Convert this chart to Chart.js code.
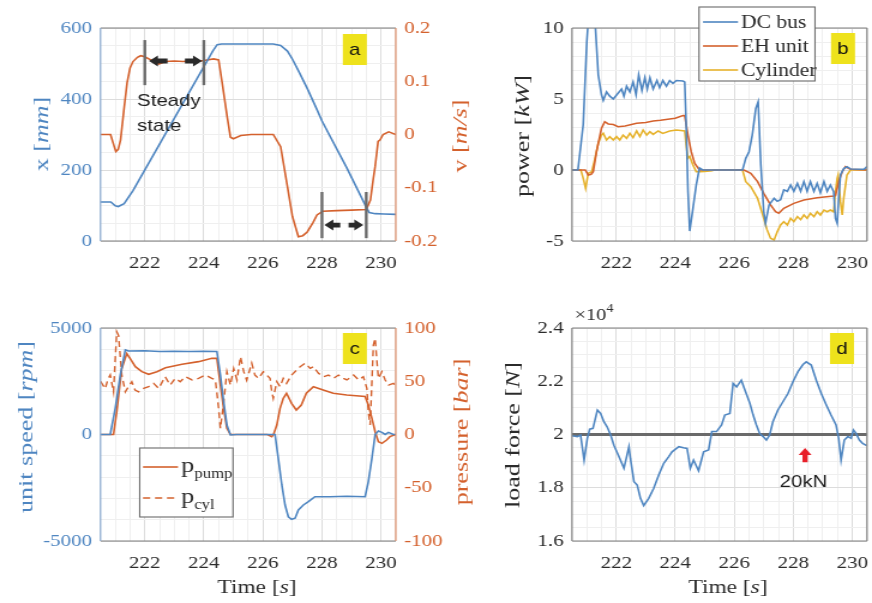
<!DOCTYPE html>
<html>
<head>
<meta charset="utf-8">
<title>EH drive test</title>
<script src="https://cdn.jsdelivr.net/npm/chart.js@4.4.1/dist/chart.umd.min.js"></script>
<style>
  html, body { margin: 0; padding: 0; background: #fff; }
  #wrap { position: relative; width: 872px; height: 603px; overflow: hidden; }
  #wrap canvas { position: absolute; left: 0; top: 0; }
</style>
</head>
<body>
<div id="wrap">
  <canvas id="pa" width="727" height="603" style="width:872px;height:603px"></canvas>
  <canvas id="pb" width="727" height="603" style="width:872px;height:603px"></canvas>
  <canvas id="pc" width="727" height="603" style="width:872px;height:603px"></canvas>
  <canvas id="pd" width="727" height="603" style="width:872px;height:603px"></canvas>
</div>
<script>
// canvas is drawn narrower and stretched sideways, like the source figure
const W = 727, H = 603, S = 872 / W;
const SERIF = "'Liberation Serif', 'Times New Roman', serif";
const SANS = "'Liberation Sans', Arial, sans-serif";
const BLUE = '#4f86c1', ORANGE = '#d4612d', YELLOW = '#e6b22c';
const DARK = '#2b2b2b', BOXGRAY = '#808080', GRID_MAJ = '#dcdcdc', GRID_MIN = '#efefef';
const TAG = '#eee21c';

const timeRange = [220.5, 230.5];
const timeTicks = [222, 224, 226, 228, 230];

// ---- panel a: position / velocity
const posTicks = [0, 200, 400, 600];
const velTicks = [-0.2, -0.1, 0, 0.1, 0.2];
const cylPosition = [[220.5,110],[220.85,110],[221.0,99],[221.1,97],[221.3,105],[221.6,142],[224.3,535],[224.45,553],
  [224.6,555],[226.35,555],[226.6,551],[226.83,535],[227.0,512],[227.2,480],[227.5,430],[227.83,370],[228.0,338],
  [228.84,206],[229.52,92],[229.6,80],[229.8,77],[230.1,76],[230.5,75]];
const cylVelocity = [[220.5,0],[220.84,0],[220.95,-0.02],[221.02,-0.032],[221.1,-0.028],[221.18,-0.01],[221.3,0.05],
  [221.4,0.097],[221.5,0.125],[221.6,0.137],[221.75,0.145],[221.86,0.148],[222.0,0.146],[222.2,0.14],[222.47,0.132],
  [222.7,0.137],[223.0,0.138],[223.3,0.137],[223.6,0.139],[223.9,0.138],[224.1,0.14],[224.33,0.142],[224.5,0.14],
  [224.62,0.097],[224.79,0.033],[224.9,-0.005],[225.0,-0.008],[225.25,-0.002],[225.6,0],[226.35,0],[226.6,-0.023],
  [226.83,-0.098],[227.0,-0.154],[227.2,-0.192],[227.35,-0.19],[227.5,-0.183],[227.7,-0.165],[227.83,-0.151],
  [228.03,-0.144],[228.5,-0.143],[229.0,-0.142],[229.5,-0.141],[229.64,-0.123],[229.74,-0.082],[229.8,-0.06],
  [229.9,-0.013],[229.97,-0.01],[230.07,0],[230.26,0.005],[230.5,0]];

// ---- panel b: power
const powerTicks = [-5, 0, 5, 10];
const powerLabels = ['DC bus', 'EH unit', 'Cylinder'];
const dcBusPower = [[220.5,0],[220.7,0],[220.88,3.2],[221.0,9.0],[221.05,10.5],[221.28,10.5],[221.39,6.7],[221.5,5.3],
  [221.56,4.9],[221.67,5.5],[221.78,5.2],[221.9,5.0],[222.06,5.4],[222.18,5.7],[222.26,5.2],[222.35,5.9],[222.46,5.5],
  [222.57,6.2],[222.67,5.3],[222.76,6.7],[222.87,5.6],[222.97,6.5],[223.05,5.7],[223.14,6.5],[223.25,5.7],[223.38,6.3],
  [223.47,5.8],[223.58,6.3],[223.7,5.9],[223.81,6.3],[223.92,6.1],[224.04,6.3],[224.26,6.27],[224.32,6.2],[224.37,3.2],
  [224.43,-1.5],[224.49,-4.3],[224.6,-2.7],[224.71,-1.06],[224.82,0.14],[224.93,0],[226.28,0],[226.39,0.82],[226.5,1.29],
  [226.61,2.46],[226.73,4.33],[226.81,4.8],[226.9,0.35],[227.0,-2.94],[227.06,-3.75],[227.18,-2.46],[227.35,-2.0],
  [227.46,-2.2],[227.57,-2.1],[227.68,-1.4],[227.8,-1.5],[227.91,-1.06],[228.02,-1.5],[228.14,-0.94],[228.25,-1.5],
  [228.36,-0.82],[228.47,-1.5],[228.58,-0.82],[228.7,-1.5],[228.81,-0.94],[228.92,-1.6],[229.04,-0.82],[229.15,-1.5],
  [229.26,-1.06],[229.37,-1.53],[229.43,-3.4],[229.49,-3.75],[229.54,-2.0],[229.6,-0.35],[229.71,0.1],[229.82,0.23],
  [229.94,0.07],[230.4,0.05],[230.5,0.25]];
const ehUnitPower = [[220.5,0],[220.95,0],[221.05,-0.35],[221.15,-0.3],[221.22,-0.12],[221.33,1.29],[221.5,2.94],
  [221.61,3.4],[221.73,3.24],[221.9,3.2],[222.06,3.05],[222.3,3.1],[222.69,3.29],[223.0,3.35],[223.25,3.45],[223.5,3.5],
  [223.81,3.59],[224.0,3.65],[224.26,3.83],[224.32,3.83],[224.43,2.46],[224.54,1.29],[224.66,0.47],[224.82,0],
  [226.33,0],[226.56,-0.23],[226.79,-0.82],[227.0,-1.64],[227.23,-2.46],[227.4,-2.94],[227.51,-3.05],[227.68,-2.7],
  [228.02,-2.35],[228.36,-2.11],[228.81,-1.95],[229.37,-1.83],[229.43,-1.8],[229.54,-0.82],[229.66,-0.12],[229.77,0.23],
  [229.94,0.05],[230.5,0]];
const cylinderPower = [[220.5,0],[220.8,0],[220.88,-0.59],[220.96,-1.29],[221.05,-0.23],[221.17,-0.12],[221.28,0.82],
  [221.39,1.88],[221.5,2.46],[221.56,2.58],[221.67,2.11],[221.78,2.35],[221.9,2.11],[222.01,2.35],[222.12,2.11],
  [222.23,2.46],[222.35,2.23],[222.46,2.58],[222.57,2.28],[222.69,2.75],[222.8,2.35],[222.91,2.82],[223.03,2.46],
  [223.14,2.7],[223.25,2.51],[223.42,2.75],[223.58,2.58],[223.81,2.75],[224.04,2.82],[224.32,2.75],[224.37,1.76],
  [224.43,0.82],[224.49,0.95],[224.6,0.35],[224.71,-0.12],[224.82,-0.12],[225.0,-0.1],[225.25,-0.05],[225.3,0],
  [226.28,0],[226.39,-0.82],[226.56,-1.18],[226.79,-2.0],[227.0,-3.4],[227.11,-4.2],[227.23,-4.8],[227.35,-4.93],
  [227.46,-4.34],[227.57,-3.87],[227.68,-3.64],[227.8,-3.87],[227.91,-3.4],[228.02,-3.64],[228.14,-3.28],[228.25,-3.5],
  [228.36,-3.17],[228.47,-3.4],[228.58,-3.05],[228.7,-3.28],[228.81,-2.94],[228.92,-3.17],[229.04,-2.82],[229.15,-2.94],
  [229.26,-2.82],[229.37,-2.94],[229.43,-1.53],[229.49,-0.59],[229.52,-0.35],[229.6,-2.23],[229.66,-3.17],[229.71,-2.0],
  [229.82,-0.35],[229.94,0],[230.5,0]];

// ---- panel c: unit speed / pressures
const speedTicks = [-5000, 0, 5000];
const pressureTicks = [-100, -50, 0, 50, 100];
const unitSpeed = [[220.5,0],[220.83,0],[221.0,1230],[221.17,2790],[221.34,3970],[221.45,3920],[222,3930],[222.5,3900],
  [223,3910],[223.5,3900],[224,3910],[224.44,3900],[224.56,2790],[224.67,1540],[224.78,446],[224.9,-20],[225.1,0],
  [226.41,0],[226.52,-1120],[226.64,-2370],[226.75,-3310],[226.86,-3860],[226.97,-3980],[227.09,-3930],[227.2,-3540],
  [227.37,-3310],[227.54,-3150],[227.76,-2920],[228.27,-2920],[228.84,-2900],[229.46,-2920],[229.57,-2210],
  [229.69,-1120],[229.8,0],[229.91,164],[230.03,100],[230.14,0],[230.25,100],[230.42,0],[230.5,0]];
const pumpPressure = [[220.5,0],[220.94,0],[221.05,21.4],[221.22,62],[221.39,76],[221.5,71.5],[221.68,63.7],[221.9,59],
  [222.13,56.5],[222.41,59],[222.7,62.7],[223.26,65.9],[223.82,68.4],[224.27,71.5],[224.44,71.5],[224.56,46.5],
  [224.67,24.6],[224.78,5.8],[224.9,0],[226.15,0],[226.3,-2],[226.36,0],[226.47,8.9],[226.58,24.6],[226.69,34],
  [226.8,38.7],[226.97,29.3],[227.13,23],[227.3,27.7],[227.47,38.7],[227.71,44.9],[228.04,41.8],[228.38,38.7],
  [228.84,37.1],[229.46,35.7],[229.57,27.7],[229.69,15.2],[229.8,2.6],[229.91,-6.8],[230.03,-8.3],[230.19,-5.2],
  [230.3,-2],[230.5,0]];
const cylPressure = [[220.5,50],[220.66,43],[220.75,52],[220.83,56],[220.94,40],[221.05,96.5],[221.11,93],[221.22,56],
  [221.34,40],[221.45,45],[221.56,49.6],[221.67,41.8],[221.79,40],[221.96,43.3],[222.13,44.9],[222.3,48],[222.47,43.3],
  [222.69,54.3],[222.86,46.4],[223.03,52.7],[223.2,49.6],[223.37,54.3],[223.6,51.2],[223.82,52.7],[224.05,55.9],
  [224.27,52.7],[224.39,51.2],[224.5,24.6],[224.56,5.8],[224.67,30],[224.78,59],[224.9,46.4],[225.01,62],[225.12,51.2],
  [225.24,73],[225.35,59],[225.45,51],[225.62,67],[225.73,55.8],[225.85,52.7],[226.01,59],[226.13,55.8],[226.24,52.7],
  [226.3,40.2],[226.35,34],[226.47,49.6],[226.58,44.9],[226.69,52.7],[226.8,48],[226.97,55.8],[227.14,60.5],
  [227.26,63.7],[227.43,67],[227.6,62.1],[227.71,63.7],[227.88,57.4],[228.05,54.3],[228.22,55.8],[228.39,52.7],
  [228.56,55.8],[228.73,52.7],[228.84,51.2],[229.07,55.8],[229.24,51.2],[229.4,54.3],[229.52,43.3],[229.57,21.4],
  [229.63,8.9],[229.69,49.6],[229.74,84],[229.8,90.3],[229.86,68.4],[229.91,52.7],[230.03,59],[230.14,51.2],
  [230.25,46.4],[230.42,48],[230.5,44.9]];

// ---- panel d: load force
const forceTicks = [16000, 18000, 20000, 22000, 24000];
const refForce = 20000;
const loadForce = [[220.5,19950],[220.68,19920],[220.79,19980],[220.91,19040],[221.02,19860],[221.1,20200],
  [221.21,20230],[221.36,20920],[221.47,20790],[221.58,20480],[221.69,20290],[221.81,19980],[221.92,19600],
  [222.09,19170],[222.26,18730],[222.43,19540],[222.48,19100],[222.6,18230],[222.71,18100],[222.82,17600],
  [222.93,17330],[223.1,17600],[223.27,17980],[223.44,18480],[223.61,18920],[223.78,19170],[223.89,19350],
  [224.12,19540],[224.28,19500],[224.4,19480],[224.51,18730],[224.62,19040],[224.79,18640],[224.96,19350],
  [225.13,19420],[225.24,20110],[225.4,20110],[225.57,20360],[225.68,20730],[225.85,20790],[225.96,21920],
  [226.08,21790],[226.24,22040],[226.36,21670],[226.53,21170],[226.64,20730],[226.75,20360],[226.86,20040],
  [226.98,19920],[227.09,19790],[227.2,19980],[227.31,20480],[227.48,20920],[227.65,21230],[227.82,21540],
  [227.99,21980],[228.16,22360],[228.33,22630],[228.44,22730],[228.61,22610],[228.78,22040],[228.95,21540],
  [229.12,21110],[229.28,20730],[229.45,20360],[229.54,19850],[229.62,19040],[229.73,19790],[229.85,19920],
  [229.96,19860],[230.04,20170],[230.13,20040],[230.24,19790],[230.35,19670],[230.49,19580]];

// plot boxes in page pixels
const areaA = {l: 100.5, r: 395.8, t: 28, b: 241};
const areaB = {l: 572, r: 867, t: 28, b: 241};
const areaC = {l: 100.5, r: 395.8, t: 328, b: 541};
const areaD = {l: 572, r: 867, t: 328, b: 541};

function steps(a, b, d) {
  const out = [];
  for (let v = a; v <= b + 1e-9; v += d) out.push(Math.round(v * 1e6) / 1e6);
  return out;
}
function pts(arr) { return arr.map(([x, y]) => ({x, y})); }
function line(label, data, color, axis, extra) {
  return Object.assign({label, data: pts(data), borderColor: color, backgroundColor: color, borderWidth: 1.6,
    pointRadius: 0, tension: 0, fill: false, yAxisID: axis}, extra || {});
}
function noPad(s) { s.paddingLeft = 0; s.paddingRight = 0; s.paddingTop = 0; s.paddingBottom = 0; }

function timeScale(area) {
  return {
    type: 'linear', min: timeRange[0], max: timeRange[1],
    afterFit: s => { s.height = H - area.b; noPad(s); },
    afterBuildTicks: s => { s.ticks = steps(timeRange[0], timeRange[1], 0.5).map(v => ({value: v})); },
    ticks: {autoSkip: false, maxRotation: 0, padding: 12, color: DARK, font: {family: SERIF, size: 17.5},
      callback: v => timeTicks.includes(v) ? String(v) : ''},
    grid: {drawTicks: false, color: c => (c.tick && timeTicks.includes(c.tick.value)) ? GRID_MAJ : GRID_MIN},
    border: {display: false}
  };
}
function valueScale(area, pos, min, max, majors, minorStep, color, fmt) {
  const all = minorStep ? steps(min, max, minorStep) : majors;
  return {
    type: 'linear', position: pos, min, max,
    afterFit: s => { s.width = pos === 'left' ? area.l / S : W - area.r / S; noPad(s); },
    afterBuildTicks: s => { s.ticks = all.map(v => ({value: v})); },
    ticks: {autoSkip: false, padding: 7, color, font: {family: SERIF, size: 17.5},
      callback: v => majors.includes(v) ? fmt(v) : ''},
    grid: {display: !!minorStep, drawTicks: false,
      color: c => (c.tick && majors.includes(c.tick.value)) ? GRID_MAJ : GRID_MIN},
    border: {display: false}
  };
}

function makeChart(id, area, datasets, scales, hasRight, deco) {
  return new Chart(document.getElementById(id), {
    type: 'line',
    data: {datasets},
    options: {
      responsive: false, animation: false, devicePixelRatio: 1, events: [],
      layout: {padding: {top: area.t, left: 0, bottom: 0, right: hasRight ? 0 : W - area.r / S}},
      plugins: {legend: {display: false}, tooltip: {enabled: false}},
      scales
    },
    plugins: [{id: 'deco_' + id, afterDraw: chart => deco(chart, chart.ctx, chart.chartArea)}]
  });
}

// ---- drawing helpers
const px = (chart, t) => chart.scales.x.getPixelForValue(t);
const py = (chart, id, v) => chart.scales[id].getPixelForValue(v);

function frame(ctx, a, leftCol, rightCol) {
  ctx.save();
  ctx.lineWidth = 1.2;
  const seg = (x0, y0, x1, y1, c) => { ctx.strokeStyle = c; ctx.beginPath(); ctx.moveTo(x0, y0); ctx.lineTo(x1, y1); ctx.stroke(); };
  seg(a.left, a.top, a.right, a.top, BOXGRAY);
  seg(a.left, a.bottom, a.right, a.bottom, BOXGRAY);
  seg(a.left, a.top, a.left, a.bottom, leftCol);
  seg(a.right, a.top, a.right, a.bottom, rightCol);
  ctx.restore();
}
function tag(ctx, a, letter, dxRight, dyTop) {
  const w = 24 / S, h = 31;
  const x = a.right - dxRight / S - w, y = a.top + dyTop;
  ctx.save();
  ctx.fillStyle = TAG; ctx.fillRect(x, y, w, h);
  ctx.fillStyle = '#111'; ctx.font = `17px ${SANS}`; ctx.textAlign = 'center'; ctx.textBaseline = 'middle';
  ctx.fillText(letter, x + w / 2, y + h / 2 + 1);
  ctx.restore();
}
function harrow(ctx, tail, tip, y, color) {
  const dir = Math.sign(tip - tail), head = 9 / S, hw = 5.5, sw = 2.4;
  const hb = tip - dir * head;
  ctx.save();
  ctx.fillStyle = color;
  ctx.beginPath();
  ctx.moveTo(tail, y - sw); ctx.lineTo(hb, y - sw); ctx.lineTo(hb, y - hw); ctx.lineTo(tip, y);
  ctx.lineTo(hb, y + hw); ctx.lineTo(hb, y + sw); ctx.lineTo(tail, y + sw); ctx.closePath(); ctx.fill();
  ctx.restore();
}
function vline(ctx, x, y0, y1, color, w) {
  ctx.save(); ctx.strokeStyle = color; ctx.lineWidth = w;
  ctx.beginPath(); ctx.moveTo(x, y0); ctx.lineTo(x, y1); ctx.stroke(); ctx.restore();
}
// mixed upright/italic text, centred on (x, y) in page px
function rich(ctx, parts, x, y, size, color, rotated) {
  ctx.save();
  ctx.translate(x / S, y);
  if (rotated) { ctx.scale(1 / S, 1); ctx.rotate(-Math.PI / 2); ctx.scale(1.3, 1); }
  const fontOf = p => `${p.i ? 'italic ' : ''}${p.size || size}px ${SERIF}`;
  let w = 0;
  parts.forEach(p => { ctx.font = fontOf(p); w += ctx.measureText(p.t).width; });
  let cx = -w / 2;
  ctx.fillStyle = color; ctx.textBaseline = 'middle'; ctx.textAlign = 'left';
  parts.forEach(p => { ctx.font = fontOf(p); ctx.fillText(p.t, cx, p.dy || 0); cx += ctx.measureText(p.t).width; });
  ctx.restore();
}
function legendBox(ctx, x0, y0, x1, y1) {
  ctx.save();
  ctx.fillStyle = '#fff'; ctx.fillRect(x0 / S, y0, (x1 - x0) / S, y1 - y0);
  ctx.strokeStyle = '#6a6a6a'; ctx.lineWidth = 1.1; ctx.strokeRect(x0 / S, y0, (x1 - x0) / S, y1 - y0);
  ctx.restore();
}
function hseg(ctx, x0, x1, y, color, dash) {
  ctx.save(); ctx.strokeStyle = color; ctx.lineWidth = 1.6; ctx.setLineDash(dash || []);
  ctx.beginPath(); ctx.moveTo(x0 / S, y); ctx.lineTo(x1 / S, y); ctx.stroke(); ctx.restore();
}

// ---- panel a
makeChart('pa', areaA, [
  line('x', cylPosition, BLUE, 'y'),
  line('v', cylVelocity, ORANGE, 'y2')
], {
  x: timeScale(areaA),
  y: valueScale(areaA, 'left', 0, 600, posTicks, 50, BLUE, v => String(v)),
  y2: valueScale(areaA, 'right', -0.2, 0.2, velTicks, 0, ORANGE, v => String(v))
}, true, (chart, ctx, a) => {
  frame(ctx, a, '#8aaad0', '#d98a66');
  const ink = '#2a2a2a';
  [222, 224].forEach(t => vline(ctx, px(chart, t), py(chart, 'y', 566), py(chart, 'y', 439), '#6b6b6b', 2.4));
  harrow(ctx, px(chart, 222.77), px(chart, 222.14), py(chart, 'y', 507), ink);
  harrow(ctx, px(chart, 223.36), px(chart, 223.94), py(chart, 'y', 507), ink);
  [228, 229.5].forEach(t => vline(ctx, px(chart, t), py(chart, 'y', 138), py(chart, 'y', 8), '#6b6b6b', 2.4));
  harrow(ctx, px(chart, 228.62), px(chart, 228.08), py(chart, 'y', 45), ink);
  harrow(ctx, px(chart, 228.9), px(chart, 229.4), py(chart, 'y', 45), ink);
  ctx.save();
  ctx.fillStyle = '#1c1c1c'; ctx.font = `17px ${SANS}`; ctx.textAlign = 'left'; ctx.textBaseline = 'alphabetic';
  ctx.fillText('Steady', px(chart, 221.74), py(chart, 'y', 380));
  ctx.fillText('state', px(chart, 221.74), py(chart, 'y', 310));
  ctx.restore();
  tag(ctx, a, 'a', 29, 6);
  rich(ctx, [{t: 'x ['}, {t: 'mm', i: 1}, {t: ']'}], 43, 134, 20, BLUE, true);
  rich(ctx, [{t: 'v ['}, {t: 'm/s', i: 1}, {t: ']'}], 461, 136, 20, ORANGE, true);
});

// ---- panel b
makeChart('pb', areaB, [
  line(powerLabels[0], dcBusPower, BLUE, 'y'),
  line(powerLabels[1], ehUnitPower, ORANGE, 'y'),
  line(powerLabels[2], cylinderPower, YELLOW, 'y')
], {
  x: timeScale(areaB),
  y: valueScale(areaB, 'left', -5, 10, powerTicks, 1, DARK, v => String(v))
}, false, (chart, ctx, a) => {
  frame(ctx, a, BOXGRAY, BOXGRAY);
  legendBox(ctx, 699, 7, 815, 81);
  const cols = [BLUE, ORANGE, YELLOW], ys = [22, 46, 70];
  powerLabels.forEach((lab, i) => {
    hseg(ctx, 703, 738, ys[i], cols[i]);
    ctx.save(); ctx.fillStyle = DARK; ctx.font = `18px ${SERIF}`; ctx.textBaseline = 'middle'; ctx.textAlign = 'left';
    ctx.fillText(lab, 741 / S, ys[i] + 1); ctx.restore();
  });
  tag(ctx, a, 'b', 12, 5);
  rich(ctx, [{t: 'power ['}, {t: 'kW', i: 1}, {t: ']'}], 524, 136, 20, DARK, true);
});

// ---- panel c
makeChart('pc', areaC, [
  line('unit speed', unitSpeed, BLUE, 'y'),
  line('p pump', pumpPressure, ORANGE, 'y2'),
  line('p cyl', cylPressure, ORANGE, 'y2', {borderDash: [6, 4], borderWidth: 1.4})
], {
  x: timeScale(areaC),
  y: valueScale(areaC, 'left', -5000, 5000, speedTicks, 1000, BLUE, v => String(v)),
  y2: valueScale(areaC, 'right', -100, 100, pressureTicks, 0, ORANGE, v => String(v))
}, true, (chart, ctx, a) => {
  frame(ctx, a, '#8aaad0', '#d98a66');
  legendBox(ctx, 139.7, 448, 233, 517);
  hseg(ctx, 143, 178, 467, ORANGE);
  hseg(ctx, 143, 178, 498, ORANGE, [6, 4]);
  ctx.save(); ctx.fillStyle = DARK; ctx.textBaseline = 'alphabetic'; ctx.textAlign = 'left';
  ctx.font = `22px ${SERIF}`; ctx.fillText('p', 181 / S, 472);
  ctx.font = `14px ${SERIF}`; ctx.fillText('pump', 181 / S + 11, 478);
  ctx.font = `22px ${SERIF}`; ctx.fillText('p', 181 / S, 503);
  ctx.font = `14px ${SERIF}`; ctx.fillText('cyl', 181 / S + 11, 509);
  ctx.restore();
  tag(ctx, a, 'c', 29, 5);
  rich(ctx, [{t: 'unit speed ['}, {t: 'rpm', i: 1}, {t: ']'}], 27, 427, 20, BLUE, true);
  rich(ctx, [{t: 'pressure ['}, {t: 'bar', i: 1}, {t: ']'}], 463, 432, 20, ORANGE, true);
  rich(ctx, [{t: 'Time ['}, {t: 's', i: 1}, {t: ']'}], 257, 588, 19.5, DARK, false);
});

// ---- panel d
makeChart('pd', areaD, [
  line('load force', loadForce, BLUE, 'y'),
  line('20 kN', [[timeRange[0], refForce], [timeRange[1], refForce]], '#6a6a6a', 'y', {borderWidth: 3})
], {
  x: timeScale(areaD),
  y: valueScale(areaD, 'left', 16000, 24000, forceTicks, 500, DARK, v => String(v / 1e4))
}, false, (chart, ctx, a) => {
  frame(ctx, a, BOXGRAY, BOXGRAY);
  // red marker arrow
  const ax = px(chart, 228.4), tip = py(chart, 'y', 19490), base = py(chart, 'y', 18960);
  const hh = 7, hw = 6.5 / S, sw = 2.6 / S;
  ctx.save(); ctx.fillStyle = '#e8202a'; ctx.beginPath();
  ctx.moveTo(ax, tip); ctx.lineTo(ax + hw, tip + hh); ctx.lineTo(ax + sw, tip + hh); ctx.lineTo(ax + sw, base);
  ctx.lineTo(ax - sw, base); ctx.lineTo(ax - sw, tip + hh); ctx.lineTo(ax - hw, tip + hh); ctx.closePath(); ctx.fill();
  ctx.fillStyle = '#1c1c1c'; ctx.font = `17px ${SANS}`; ctx.textAlign = 'center'; ctx.textBaseline = 'alphabetic';
  ctx.fillText('20kN', px(chart, 228.35), py(chart, 'y', 18030));
  ctx.restore();
  tag(ctx, a, 'd', 13, 5);
  rich(ctx, [{t: '×10'}, {t: '4', size: 12, dy: -7}], 594, 316, 17, DARK, false);
  rich(ctx, [{t: 'load force ['}, {t: 'N', i: 1}, {t: ']'}], 514, 435, 20, DARK, true);
  rich(ctx, [{t: 'Time ['}, {t: 's', i: 1}, {t: ']'}], 728, 588, 19.5, DARK, false);
});
</script>
</body>
</html>
